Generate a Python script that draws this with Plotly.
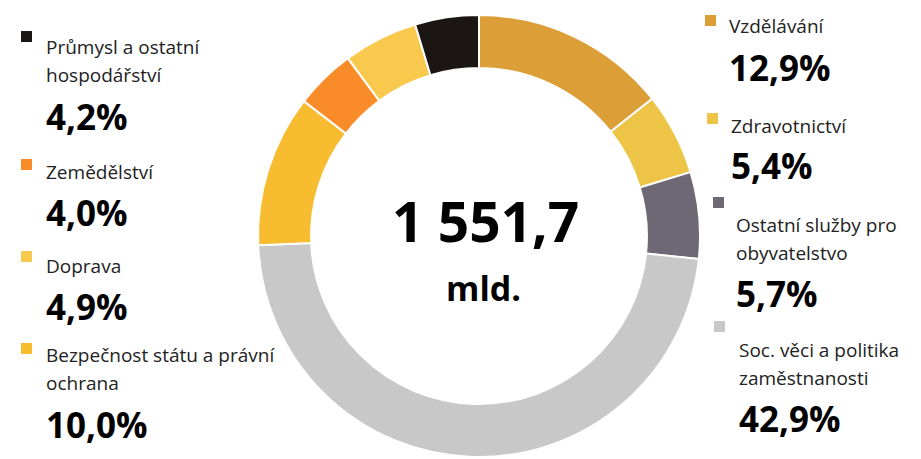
import plotly.graph_objects as go

W, H = 921, 459

# ---- data ----
categories = [
    "Vzdělávání",
    "Zdravotnictví",
    "Ostatní služby pro<br>obyvatelstvo",
    "Soc. věci a politika<br>zaměstnanosti",
    "Bezpečnost státu a právní<br>ochrana",
    "Zemědělství",
    "Doprava",
    "Průmysl a ostatní<br>hospodářství",
]
shares = [12.9, 5.4, 5.7, 42.9, 10.0, 4.0, 4.9, 4.2]
share_labels = ["12,9%", "5,4%", "5,7%", "42,9%", "10,0%", "4,0%", "4,9%", "4,2%"]
total_label = "1 551,7"
unit_label = "mld."

# ---- styles ----
colors = ["#DC9F38", "#EEC446", "#6D6873", "#C8C8C8",
          "#F8BC30", "#F98B29", "#F8C94C", "#1B1613"]

# label layout (pixel positions in the screenshot)
layout_px = [
    dict(sq=(705, 15), tx=727, ty=26, py=68),
    dict(sq=(707, 113), tx=729, ty=126, py=166),
    dict(sq=(713, 197), tx=734, ty=225, py=293),
    dict(sq=(714, 321), tx=737, ty=350, py=418),
    dict(sq=(21, 343), tx=44, ty=355, py=424),
    dict(sq=(21, 159), tx=44, ty=172, py=212),
    dict(sq=(21, 251), tx=44, ty=266, py=306),
    dict(sq=(21, 31), tx=44, ty=47, py=117),
]
LINE_GAP = 28
SQ = 11
PAGE_OFFSET = 8  # default body margin of the html page


def px_x(x):
    return (x - PAGE_OFFSET) / W


def px_y(y):
    return 1 - (y - PAGE_OFFSET) / H


FONT = "Open Sans"

fig = go.Figure()
fig.add_trace(go.Pie(
    labels=categories,
    values=shares,
    sort=False,
    direction="clockwise",
    rotation=0,
    hole=0.76,
    marker=dict(colors=colors, line=dict(color="white", width=2)),
    textinfo="none",
    hoverinfo="label+percent",
    domain=dict(x=[px_x(258), px_x(700)], y=[px_y(457), px_y(15)]),
    showlegend=False,
))

annotations = []
shapes = []
for cat, lab, col, lp in zip(categories, share_labels, colors, layout_px):
    sx, sy = lp["sq"]
    shapes.append(dict(type="rect", xref="paper", yref="paper",
                       x0=px_x(sx), x1=px_x(sx + SQ), y0=px_y(sy + SQ), y1=px_y(sy),
                       fillcolor=col, line=dict(width=0)))
    for i, line in enumerate(cat.split("<br>")):
        annotations.append(dict(
            x=px_x(lp["tx"]), y=px_y(lp["ty"] + i * LINE_GAP),
            xref="paper", yref="paper", xanchor="left", yanchor="middle",
            text=line, showarrow=False,
            font=dict(family=FONT, size=19, color="#222222")))
    annotations.append(dict(
        x=px_x(lp["tx"]), y=px_y(lp["py"]),
        xref="paper", yref="paper", xanchor="left", yanchor="middle",
        text="<b>" + lab + "</b>", showarrow=False,
        font=dict(family=FONT, size=35, color="#000000")))

annotations.append(dict(
    x=px_x(485), y=px_y(220), xref="paper", yref="paper",
    xanchor="center", yanchor="middle", text="<b>" + total_label + "</b>",
    showarrow=False, font=dict(family=FONT, size=55, color="#000000")))
annotations.append(dict(
    x=px_x(483), y=px_y(288), xref="paper", yref="paper",
    xanchor="center", yanchor="middle", text="<b>" + unit_label + "</b>",
    showarrow=False, font=dict(family=FONT, size=34, color="#000000")))

fig.update_layout(
    width=W, height=H,
    margin=dict(l=0, r=0, t=0, b=0),
    paper_bgcolor="white", plot_bgcolor="white",
    annotations=annotations, shapes=shapes,
)

fig.write_html("out.html")
